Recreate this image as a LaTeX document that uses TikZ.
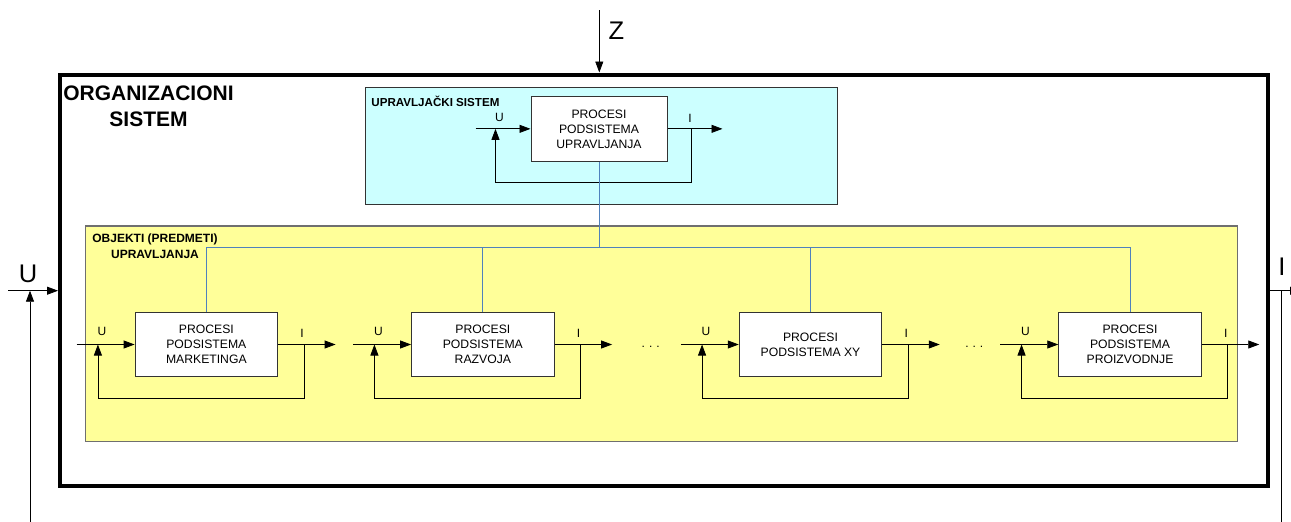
\documentclass[tikz,border=0pt]{standalone}
\usepackage{fontspec}
\setmainfont{Liberation Sans}
\usetikzlibrary{arrows.meta,calc}
\definecolor{cyanfill}{HTML}{CCFFFF}
\definecolor{yellowfill}{HTML}{FFFF99}
\definecolor{busblue}{RGB}{79,129,189}
\definecolor{edgegray}{HTML}{333333}
\definecolor{ybord}{HTML}{6F6F6F}
\tikzset{
  sig/.style={line width=0.8pt, -{Triangle[length=11pt,width=8pt]}},
  fbline/.style={line width=0.8pt, -{Triangle[length=11pt,width=8pt]}},
  proc/.style={draw=edgegray, line width=1pt, fill=white, minimum width=142.5pt, minimum height=64.5pt, inner sep=0pt, align=center, font=\fontsize{12.2}{15}\selectfont},
  lab/.style={font=\fontsize{12}{14}\selectfont, inner sep=0pt},
  biglab/.style={font=\fontsize{25.5}{28}\selectfont, inner sep=0pt},
  boldlab/.style={font=\bfseries\fontsize{12}{15.6}\selectfont, inner sep=0pt, align=center},
  busline/.style={draw=busblue, line width=0.9pt},
  dotslab/.style={font=\fontsize{12}{14}\selectfont, inner sep=0pt, anchor=base},
}
\begin{document}
\begin{tikzpicture}[x=1pt,y=-1pt]
\useasboundingbox (0,0) rectangle (1291,522);
% outer organisational system
\node[draw=black, line width=4pt, minimum width=1208pt, minimum height=411pt, inner sep=0pt] (org) at (664,280) {};
\node[font=\bfseries\fontsize{21}{25.3}\selectfont, align=center, inner sep=0pt] (orgname) at (148.5,106.2) {ORGANIZACIONI\\SISTEM};
% control system
\node[draw=edgegray, line width=0.9pt, fill=cyanfill, minimum width=472pt, minimum height=116.3pt, inner sep=0pt] (upr) at (601,145.85) {};
\node[boldlab, font=\bfseries\fontsize{11.6}{14}\selectfont, anchor=base west] (uprname) at (371.2,106.5) {UPRAVLJAČKI SISTEM};
% objects of control
\node[draw=ybord, line width=1.2pt, fill=yellowfill, minimum width=1152pt, minimum height=215.7pt, inner sep=0pt] (obj) at (661.7,333.85) {};
\node[boldlab] (objname) at (155,246.5) {OBJEKTI (PREDMETI)\\UPRAVLJANJA};
% process boxes
\node[proc, minimum width=136pt, minimum height=64.3pt] (ctrl) at (599,128.85) {PROCESI\\PODSISTEMA\\UPRAVLJANJA};
\node[proc] (b1) at (206.35,344.5) {PROCESI\\PODSISTEMA\\MARKETINGA};
\node[proc] (b2) at (482.85,344.5) {PROCESI\\PODSISTEMA\\RAZVOJA};
\node[proc] (b3) at (810.5,344.5) {PROCESI\\PODSISTEMA XY};
\node[proc] (b4) at (1130,344.5) {PROCESI\\PODSISTEMA\\PROIZVODNJE};
% control loop of the control subsystem
\coordinate (c-in) at ($(ctrl.west)+(-55,0)$);
\coordinate (c-fl) at ($(ctrl.west)+(-35,0)$);
\coordinate (c-fr) at ($(ctrl.east)+(24,0)$);
\coordinate (c-out) at ($(ctrl.east)+(55,0)$);
\draw[sig] (c-in) -- (ctrl.west);
\draw[sig] (ctrl.east) -- (c-out);
\draw[fbline] (c-fr) -- ++(0,54) -| (c-fl);
\node[lab] (c-u) at ($(c-fl)+(4,-11.7)$) {U};
\node[lab] (c-i) at ($(c-fr)+(-1.5,-10.2)$) {I};
% loops of the object subsystems
\foreach \b in {b1,b2,b3,b4}{
  \coordinate (\b-in) at ($(\b.west)+(-58,0)$);
  \coordinate (\b-fl) at ($(\b.west)+(-36.7,0)$);
  \coordinate (\b-fr) at ($(\b.east)+(26,0)$);
  \coordinate (\b-out) at ($(\b.east)+(57.5,0)$);
  \draw[sig] (\b-in) -- (\b.west);
  \draw[sig] (\b.east) -- (\b-out);
  \draw[fbline] (\b-fr) -- ++(0,53.8) -| (\b-fl);
  \node[lab] (\b-u) at ($(\b-fl)+(4,-13.5)$) {U};
  \node[lab] (\b-i) at ($(\b-fr)+(-2,-11)$) {I};
}
\node[dotslab] (dots1) at (650.7,347) {.\,\,.\,\,.};
\node[dotslab] (dots2) at (974.3,347) {.\,\,.\,\,.};
% blue bus
\coordinate (busy) at (0,247);
\draw[busline] (ctrl.south) -- (ctrl.south |- busy);
\draw[busline] (b1.north) -- (b1.north |- busy) -- (b4.north |- busy) -- (b4.north);
\draw[busline] (b2.north) -- (b2.north |- busy);
\draw[busline] (b3.north) -- (b3.north |- busy);
% environment inputs and outputs
\coordinate (ztop) at (599.3,10);
\draw[sig] (ztop) -- (ztop |- org.north);
\node[biglab] (zlab) at (616.5,31) {Z};
\coordinate (uin) at (8,290.7);
\coordinate (ufb) at (30,522);
\draw[sig] (uin) -- (uin -| org.west);
\draw[sig] (ufb) -- (ufb |- uin);
\node[biglab] (ulab) at (28,274) {U};
\coordinate (iout) at (1301,290.7);
\coordinate (ifb) at (1281,522);
\draw[sig] (iout -| org.east) -- (iout);
\draw[line width=0.8pt] (ifb |- iout) -- (ifb);
\node[biglab] (ilab) at (1282,266.7) {I};
\end{tikzpicture}
\end{document}
